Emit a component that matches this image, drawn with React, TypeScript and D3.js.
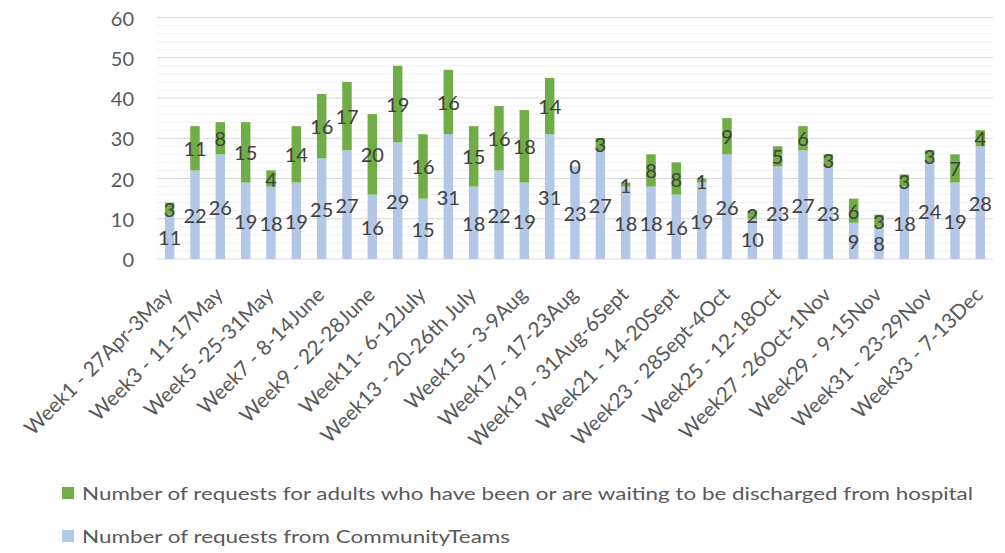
import React from "react";
import * as d3 from "d3";

const weeks: number[] = Array.from({ length: 33 }, (_, i) => i + 1);
const community: number[] = [11, 22, 26, 19, 18, 19, 25, 27, 16, 29, 15, 31, 18, 22, 19, 31, 23, 27, 18, 18, 16, 19, 26, 10, 23, 27, 23, 9, 8, 18, 24, 19, 28];
const hospital: number[] = [3, 11, 8, 15, 4, 14, 16, 17, 20, 19, 16, 16, 15, 16, 18, 14, 0, 3, 1, 8, 8, 1, 9, 2, 5, 6, 3, 6, 3, 3, 3, 7, 4];
const tickLabels: string[] = [
  "Week1 - 27Apr-3May",
  "Week3 - 11-17May",
  "Week5 -25-31May",
  "Week7 - 8-14June",
  "Week9 - 22-28June",
  "Week11- 6-12July",
  "Week13 - 20-26th July",
  "Week15 - 3-9Aug",
  "Week17 - 17-23Aug",
  "Week19 - 31Aug-6Sept",
  "Week21 - 14-20Sept",
  "Week23 - 28Sept-4Oct",
  "Week25 - 12-18Oct",
  "Week27 -26Oct-1Nov",
  "Week29 - 9-15Nov",
  "Week31 - 23-29Nov",
  "Week33 - 7-13Dec",
];
const yTicks: number[] = [0, 10, 20, 30, 40, 50, 60];
const seriesNames: string[] = [
  "Number of requests for adults who have been or are waiting to be discharged from hospital",
  "Number of requests from CommunityTeams",
];

const GREEN = "#70AD47";
const BLUE = "#B4C7E7";
const FONT = "Lato, 'Open Sans', sans-serif";

export default function App() {
  const W = 1005, H = 553;
  const x = d3.scaleBand<number>().domain(weeks).range([157, 993]).paddingInner(0.625).paddingOuter(0.3125);
  const y = d3.scaleLinear().domain([0, 60]).range([259, 17.5]);
  const minor = d3.range(0, 61, 2).filter((v) => v % 10 !== 0);
  const bw = x.bandwidth();

  return (
    <svg width={W} height={H} style={{ position: "absolute", left: 0, top: 0, background: "#fff" }} fontFamily={FONT}>
      {minor.map((v) => (
        <line key={"m" + v} x1={157} x2={993} y1={y(v)} y2={y(v)} stroke="#F2F2F2" strokeWidth={1} />
      ))}
      {yTicks.map((v) => (
        <line key={"g" + v} x1={157} x2={993} y1={y(v)} y2={y(v)} stroke="#D9D9D9" strokeWidth={1} />
      ))}
      {yTicks.map((v) => (
        <text key={"t" + v} x={134} y={y(v)} textAnchor="end" dominantBaseline="central" fontSize={20} fill="#595959">
          {v}
        </text>
      ))}
      {weeks.map((w, i) => {
        const x0 = x(w)!;
        const c = community[i], h = hospital[i];
        return (
          <g key={"b" + w}>
            <rect x={x0} y={y(c)} width={bw} height={y(0) - y(c)} fill={BLUE} />
            <rect x={x0} y={y(c + h)} width={bw} height={y(c) - y(c + h)} fill={GREEN} />
          </g>
        );
      })}
      {weeks.map((w, i) => {
        const cx = x(w)! + bw / 2;
        const c = community[i], h = hospital[i];
        return (
          <g key={"l" + w} fontSize={20} fill="#404040" textAnchor="middle" dominantBaseline="central">
            <text x={cx} y={y(c / 2)}>{c}</text>
            <text x={cx} y={y(c + h / 2)}>{h}</text>
          </g>
        );
      })}
      {tickLabels.map((t, k) => {
        const w = weeks[k * 2];
        const cx = x(w)! + bw / 2;
        const px = cx + 4, py = 296;
        return (
          <text key={"x" + k} x={px} y={py} transform={`rotate(-45 ${px} ${py})`} textAnchor="end" fontSize={20.7} fill="#595959">
            {t}
          </text>
        );
      })}
      <rect x={62} y={487} width={12} height={12} fill={GREEN} />
      <text x={82} y={493} dominantBaseline="central" fontSize={18} fill="#595959" textLength={891} lengthAdjust="spacingAndGlyphs">{seriesNames[0]}</text>
      <rect x={62} y={530} width={12} height={12} fill={BLUE} />
      <text x={82} y={536} dominantBaseline="central" fontSize={18} fill="#595959" textLength={428} lengthAdjust="spacingAndGlyphs">{seriesNames[1]}</text>
    </svg>
  );
}
